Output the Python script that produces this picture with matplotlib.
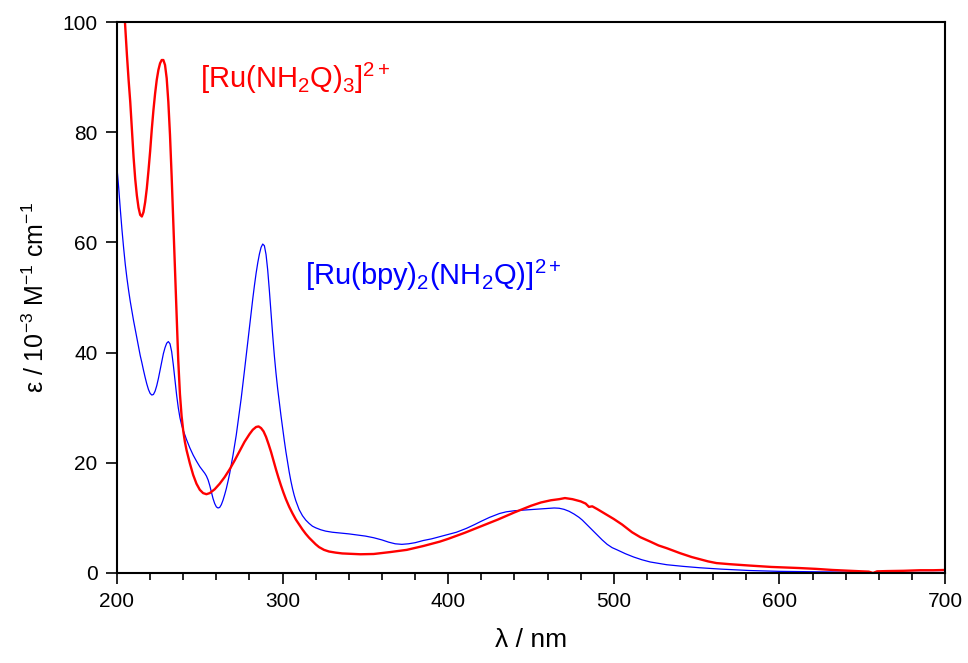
import matplotlib as mpl
mpl.use('Agg')
import matplotlib.pyplot as plt
from matplotlib.ticker import MultipleLocator

plt.rcParams['font.family'] = ['Liberation Sans', 'DejaVu Sans']
plt.rcParams['mathtext.fontset'] = 'custom'
plt.rcParams['mathtext.rm'] = 'Liberation Sans'
plt.rcParams['mathtext.it'] = 'Liberation Sans'

# [Ru(NH2Q)3]2+ spectrum (red)
wl_red = [203, 204, 205, 206, 207, 208, 209, 210, 211, 212, 213, 214, 215, 216, 217, 218, 219, 220,
          221, 222, 223, 224, 225, 226, 227, 228, 229, 230, 231, 232, 233, 234, 235, 236, 237, 238,
          239, 240, 241, 242, 244, 246, 248, 250, 252, 254, 256, 259, 262, 265, 268, 271, 274, 277,
          280, 282, 284, 285.5, 287, 288.5, 290, 291.5, 293, 294.5, 296, 297.5, 299, 300.5, 302, 304,
          306, 308, 310, 312, 314, 316, 318, 320, 322, 325, 328, 332, 336, 340, 347, 355, 365, 375,
          385, 395, 400, 410, 420, 430, 440, 450, 456, 462, 467, 470.5, 475, 480, 483, 485, 487, 490,
          495, 500, 505, 511, 516, 522, 527, 532, 540, 547, 552, 557, 562, 570, 582, 595, 612, 622,
          632, 642, 650, 654, 656.5, 659, 665, 675, 685, 693, 700]
eps_red = [108, 104, 99, 94, 89.5, 85.5, 80.5, 75.5, 71.5, 68.5, 66.3, 65, 64.7, 65.5, 67.3, 69.8, 73, 76.5,
           80.5, 84, 87, 89.5, 91.3, 92.5, 93.1, 93.1, 92.2, 89.8, 85.5, 79.5, 72, 63.5, 54.5, 46, 38.5, 32.5,
           28.5, 25.8, 23.8, 22.3, 19.9, 17.8, 16.2, 15.1, 14.5, 14.3, 14.5, 15.2, 16.2, 17.4, 18.8, 20.4, 22.1, 23.8,
           25.2, 26, 26.5, 26.6, 26.3, 25.7, 24.7, 23.4, 22, 20.4, 18.8, 17.3, 15.9, 14.6, 13.4, 12,
           10.8, 9.7, 8.8, 7.9, 7.1, 6.4, 5.8, 5.2, 4.7, 4.2, 3.9, 3.7, 3.55, 3.5, 3.4, 3.45, 3.8, 4.2,
           4.9, 5.7, 6.2, 7.3, 8.5, 9.7, 11.0, 12.2, 12.8, 13.2, 13.4, 13.6, 13.4, 13.0, 12.6, 12.0, 12.1, 11.6,
           10.7, 9.8, 8.8, 7.4, 6.5, 5.7, 5.0, 4.5, 3.6, 2.9, 2.5, 2.1, 1.8, 1.6, 1.35, 1.1, 0.9, 0.75,
           0.55, 0.4, 0.3, 0.25, 0.0, 0.3, 0.35, 0.4, 0.5, 0.5, 0.55]

# [Ru(bpy)2(NH2Q)]2+ spectrum (blue)
wl_blue = [200, 201, 202, 203, 204, 205, 206, 207, 208, 209, 210, 211, 212, 213, 214, 215, 216, 217,
           218, 219, 220, 221, 222, 223, 224, 225, 226, 227, 228, 229, 230, 231, 232, 233, 234, 235,
           236, 237, 238, 239, 240, 242, 244, 246, 248, 250, 252, 253, 254, 255, 256, 257, 258, 259,
           260, 261, 262, 263, 264, 265, 266, 267, 268, 269, 270, 271, 272, 273, 274, 275, 276, 277,
           278, 279, 280, 281, 282, 283, 284, 285, 286, 287, 288, 289, 290, 291, 292, 293, 294, 295,
           296, 297, 298, 299, 300, 301, 302, 303, 304, 305, 306, 307, 308, 310, 312, 314, 316, 318,
           320, 323, 326, 330, 335, 340, 345, 350, 355, 360, 364, 368, 372, 376, 380, 385, 390, 395,
           399, 405, 411, 416, 420, 425, 431, 435, 440, 445, 451, 456, 460, 464, 467, 470, 473, 476,
           479, 481, 484, 487, 490, 493, 496, 499, 502, 507, 512, 517, 522, 527, 532, 542, 552, 565,
           582, 600, 625, 650, 656.5, 660, 680, 700]
eps_blue = [73.5, 70, 66, 62.3, 59, 56, 53.5, 51.3, 49.3, 47.5, 45.8, 44.2, 42.6, 41, 39.5, 38.2, 36.8, 35.5,
            34.3, 33.3, 32.6, 32.3, 32.4, 33, 34, 35.3, 36.8, 38.3, 39.8, 40.9, 41.7, 42, 41.6, 40.2, 37.8, 35,
            32.3, 30, 28.2, 26.9, 25.9, 24.2, 22.7, 21.4, 20.3, 19.3, 18.5, 18.1, 17.6, 16.9, 15.9, 14.7, 13.5, 12.6,
            12, 11.8, 11.9, 12.4, 13.2, 14.2, 15.3, 16.6, 18, 19.6, 21.3, 23.1, 25, 27.2, 29.4, 31.7, 34.2, 36.8,
            39.4, 42, 44.7, 47.3, 49.8, 52.2, 54.4, 56.3, 57.9, 59.1, 59.7, 59.4, 57.8, 55, 51.3, 47.2, 43.2, 39.5,
            36.3, 33.5, 31, 28.6, 26.3, 24.1, 22, 20.1, 18.3, 16.7, 15.3, 14.1, 13.1, 11.5, 10.4, 9.6, 9, 8.5,
            8.2, 7.85, 7.6, 7.4, 7.25, 7.1, 6.9, 6.7, 6.4, 6.0, 5.6, 5.3, 5.2, 5.3, 5.5, 5.9, 6.2, 6.6,
            6.9, 7.4, 8.1, 8.8, 9.4, 10.1, 10.8, 11.1, 11.3, 11.4, 11.5, 11.6, 11.7, 11.8, 11.75, 11.55, 11.2, 10.7,
            10.1, 9.6, 8.7, 7.8, 6.9, 6.0, 5.2, 4.6, 4.2, 3.5, 2.9, 2.4, 2.0, 1.75, 1.5, 1.2, 0.95, 0.7,
            0.45, 0.3, 0.2, 0.12, 0.0, 0.1, 0.1, 0.1]

fig = plt.figure(figsize=(9.68, 6.63), dpi=100)
ax = fig.add_axes([117/968, 1 - 573/663, (945 - 117)/968, (573 - 22)/663])

ax.plot(wl_blue, eps_blue, color='#0000ff', lw=0.9)
ax.plot(wl_red, eps_red, color='#ff0000', lw=1.7)

ax.set_xlim(200, 700)
ax.set_ylim(0, 100)
ax.xaxis.set_major_locator(MultipleLocator(100))
ax.xaxis.set_minor_locator(MultipleLocator(20))
ax.yaxis.set_major_locator(MultipleLocator(20))
ax.tick_params(which='major', direction='out', length=8, width=1.2, labelsize=15, pad=6)
ax.tick_params(which='minor', direction='out', length=5, width=1.2)
ax.tick_params(top=False, right=False)
for s in ax.spines.values():
    s.set_linewidth(1.5)

ax.set_xlabel('λ / nm', fontsize=19, labelpad=12)
ax.set_ylabel(r'ε / 10$^{\mathregular{-3}}$ M$^{\mathregular{-1}}$ cm$^{\mathregular{-1}}$',
              fontsize=18, labelpad=10)

ax.text(250, 88, r'[Ru(NH$_{\mathregular{2}}$Q)$_{\mathregular{3}}$]$^{\mathregular{2+}}$',
        color='#ff0000', fontsize=21, va='baseline')
ax.text(313.5, 52.3, r'[Ru(bpy)$_{\mathregular{2}}$(NH$_{\mathregular{2}}$Q)]$^{\mathregular{2+}}$',
        color='#0000ff', fontsize=21, va='baseline')

fig.savefig('out.png', dpi=100)
